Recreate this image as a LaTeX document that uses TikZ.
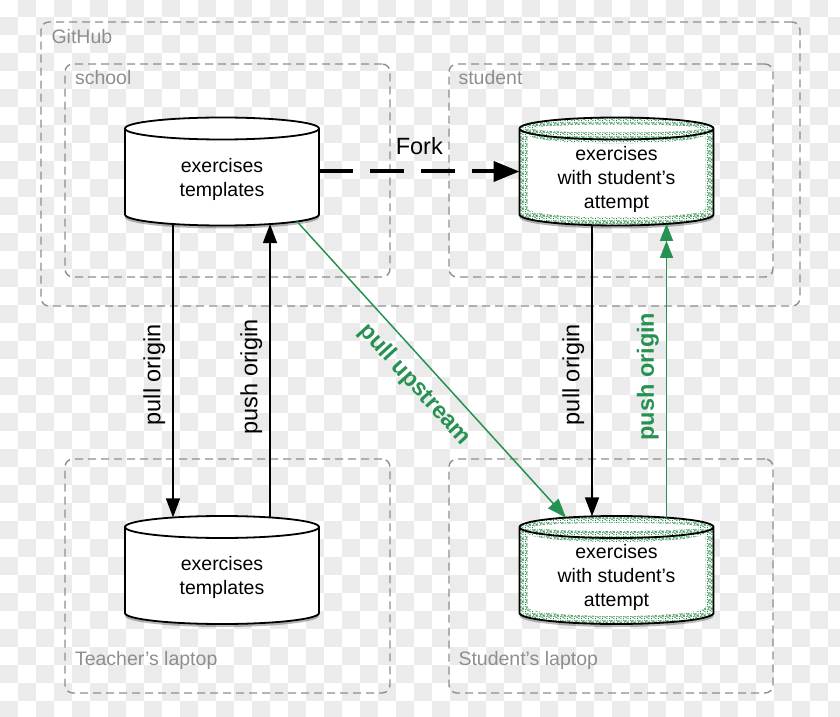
\documentclass[tikz,border=0pt]{standalone}
\usepackage{fontspec}
\setmainfont{Liberation Sans}
\usetikzlibrary{arrows.meta, positioning, patterns}
\definecolor{chkGray}{HTML}{EBEBEB}
\definecolor{zoneGray}{HTML}{8E8E8E}
\definecolor{gitGreen}{RGB}{38,146,82}
\definecolor{speckGreen}{RGB}{28,128,62}
\pgfdeclarepatternformonly{speckle}{\pgfqpoint{0pt}{0pt}}{\pgfqpoint{7pt}{7pt}}{\pgfqpoint{7pt}{7pt}}{%
  \pgfpathrectangle{\pgfqpoint{0pt}{0pt}}{\pgfqpoint{1pt}{1pt}}%
  \pgfpathrectangle{\pgfqpoint{3pt}{1pt}}{\pgfqpoint{1pt}{1pt}}%
  \pgfpathrectangle{\pgfqpoint{5pt}{0pt}}{\pgfqpoint{1pt}{1pt}}%
  \pgfpathrectangle{\pgfqpoint{1pt}{3pt}}{\pgfqpoint{1pt}{1pt}}%
  \pgfpathrectangle{\pgfqpoint{4pt}{4pt}}{\pgfqpoint{1pt}{1pt}}%
  \pgfpathrectangle{\pgfqpoint{6pt}{2pt}}{\pgfqpoint{1pt}{1pt}}%
  \pgfpathrectangle{\pgfqpoint{2pt}{5pt}}{\pgfqpoint{1pt}{1pt}}%
  \pgfpathrectangle{\pgfqpoint{6pt}{6pt}}{\pgfqpoint{1pt}{1pt}}%
  \pgfpathrectangle{\pgfqpoint{0pt}{6pt}}{\pgfqpoint{1pt}{1pt}}%
  \pgfpathrectangle{\pgfqpoint{5pt}{4pt}}{\pgfqpoint{1pt}{1pt}}%
  \pgfpathrectangle{\pgfqpoint{2pt}{2pt}}{\pgfqpoint{1pt}{1pt}}%
  \pgfpathrectangle{\pgfqpoint{4pt}{2pt}}{\pgfqpoint{1pt}{1pt}}%
  \pgfpathrectangle{\pgfqpoint{1pt}{5pt}}{\pgfqpoint{1pt}{1pt}}%
  \pgfpathrectangle{\pgfqpoint{3pt}{4pt}}{\pgfqpoint{1pt}{1pt}}%
  \pgfpathrectangle{\pgfqpoint{0pt}{2pt}}{\pgfqpoint{1pt}{1pt}}%
  \pgfpathrectangle{\pgfqpoint{6pt}{4pt}}{\pgfqpoint{1pt}{1pt}}%
  \pgfpathrectangle{\pgfqpoint{3pt}{6pt}}{\pgfqpoint{1pt}{1pt}}%
  \pgfpathrectangle{\pgfqpoint{5pt}{3pt}}{\pgfqpoint{1pt}{1pt}}%
  \pgfusepath{fill}}
\newcommand\cylshape[1]{%
  \fill[black, opacity=.28] ([xshift=-97pt,yshift=47.5pt]path picture bounding box.center) -- ++(0,-86pt)
    arc[start angle=180, end angle=360, x radius=97pt, y radius=11pt] -- ++(0,86pt) -- cycle;
  \fill[white] ([xshift=-97pt,yshift=50.5pt]path picture bounding box.center) -- ++(0,-86pt)
    arc[start angle=180, end angle=360, x radius=97pt, y radius=11pt] -- ++(0,86pt)
    arc[start angle=0, end angle=180, x radius=97pt, y radius=11pt] -- cycle;
  #1%
  \draw[line width=1.8pt] ([xshift=-97pt,yshift=50.5pt]path picture bounding box.center) -- ++(0,-86pt)
    arc[start angle=180, end angle=360, x radius=97pt, y radius=11pt] -- ++(0,86pt)
    arc[start angle=0, end angle=360, x radius=97pt, y radius=11pt];
}

\begin{document}
\begin{tikzpicture}[x=1pt, y=1pt, font=\fontsize{19.5}{24}\selectfont,
  zone/.style={draw=zoneGray, line width=1.4pt, dash pattern=on 8pt off 5pt, rounded corners=8pt, inner sep=0pt},
  zonelbl/.style={text=zoneGray, anchor=west, inner sep=0pt},
  repo/.style={align=center, inner sep=0pt, minimum width=200pt, minimum height=128pt,
               path picture={\cylshape{}}},
  attempt/.style={repo, path picture={\cylshape{%
      \fill[pattern=speckle, pattern color=speckGreen] ([xshift=-97pt,yshift=50.5pt]path picture bounding box.center) -- ++(0,-86pt)
        arc[start angle=180, end angle=360, x radius=97pt, y radius=11pt] -- ++(0,86pt)
        arc[start angle=0, end angle=180, x radius=97pt, y radius=11pt] -- cycle;
      \fill[white] ([xshift=-89pt,yshift=44.5pt]path picture bounding box.center)
        arc[start angle=180, end angle=360, x radius=89pt, y radius=9pt] -- ++(0,-74pt)
        arc[start angle=0, end angle=-180, x radius=89pt, y radius=9pt] -- cycle;
      \fill[white] ([yshift=50.5pt]path picture bounding box.center) ellipse [x radius=83pt, y radius=4pt];
    }}},
  flow/.style={line width=1.5pt, -{Triangle[length=19pt, width=14pt]}},
  gflow/.style={flow, draw=gitGreen},
  lbl/.style={font=\fontsize{23.5}{28}\selectfont, inner sep=7pt},
  glbl/.style={lbl, text=gitGreen, font=\fontsize{23.5}{28}\selectfont\bfseries},
]
  \useasboundingbox (0,0) rectangle (840,716);
  \begin{scope}
    \clip (0,0) rectangle (840,716);
    \foreach \i in {0,2,...,46}{
      \foreach \j in {1,3,...,39}{
        \fill[chkGray] (18*\i,717-18*\j) rectangle ++(18,-18);
        \fill[chkGray] (18*\i+18,735-18*\j) rectangle ++(18,-18);
      }}
  \end{scope}

  \def\xl{222}\def\xr{616.5}\def\yt{537}\def\yb{138.5}
  \node[zone, minimum width=759pt, minimum height=284pt] (github) at (420.5,552) {};
  \node[zone, minimum width=325pt, minimum height=213pt] (school) at (227.5,545.5) {};
  \node[zone, minimum width=324pt, minimum height=213pt] (stud) at (611,545.5) {};
  \node[zone, minimum width=325pt, minimum height=234pt] (tlap) at (227.5,140) {};
  \node[zone, minimum width=324pt, minimum height=234pt] (slap) at (611,140) {};
  \node[zonelbl] (githubl) at ([xshift=11pt,yshift=-15pt]github.north west) {GitHub};
  \node[zonelbl] (schooll) at ([xshift=10.5pt,yshift=-14pt]school.north west) {school};
  \node[zonelbl] (studl) at ([xshift=10pt,yshift=-14pt]stud.north west) {student};
  \node[zonelbl] (tlapl) at ([xshift=10.5pt,yshift=33pt]tlap.south west) {Teacher’s laptop};
  \node[zonelbl] (slapl) at ([xshift=10pt,yshift=33pt]slap.south west) {Student’s laptop};

  \node[repo] (s1) at (\xl,\yt) {exercises\\templates};
  \node[attempt] (s2) at (\xr,\yt) {exercises\\with student’s\\attempt};
  \node[repo] (t1) at (\xl,\yb) {exercises\\templates};
  \node[attempt] (t2) at (\xr,\yb) {exercises\\with student’s\\attempt};

  \draw[line width=4pt, dash pattern=on 34pt off 17pt, -{Triangle[length=26pt, width=20pt]}]
    ([xshift=97pt,yshift=7.5pt]s1.center) -- ([xshift=-97pt,yshift=7.5pt]s2.center)
    node[lbl, midway, above=8pt] (fork) {Fork};
  \draw[flow] ([xshift=-49pt,yshift=-45.1pt]s1.center) -- ([xshift=-49pt,yshift=60.1pt]t1.center)
    node[lbl, pos=.514, rotate=90, anchor=south] (pullo) {pull origin};
  \draw[flow] ([xshift=48pt,yshift=60.1pt]t1.center) -- ([xshift=48pt,yshift=-45.1pt]s1.center)
    node[lbl, pos=.479, rotate=90, anchor=south] (pusho) {push origin};
  \draw[gflow] ([xshift=75pt,yshift=-42.5pt]s1.center) -- ([xshift=-50.5pt,yshift=59.9pt]t2.center)
    node[glbl, midway, sloped, below, inner sep=11pt] (pullu) {pull upstream};
  \draw[flow] ([xshift=-24.5pt,yshift=-46.1pt]s2.center) -- ([xshift=-24.5pt,yshift=61.1pt]t2.center)
    node[lbl, pos=.514, rotate=90, anchor=south] (spullo) {pull origin};
  \draw[gflow, -{Triangle[length=17pt, width=13pt] Triangle[length=17pt, width=13pt]}]
    ([xshift=50pt,yshift=59.9pt]t2.center) -- ([xshift=50pt,yshift=-44.9pt]s2.center)
    node[glbl, pos=.48, rotate=90, anchor=south] (spusho) {push origin};
\end{tikzpicture}
\end{document}
